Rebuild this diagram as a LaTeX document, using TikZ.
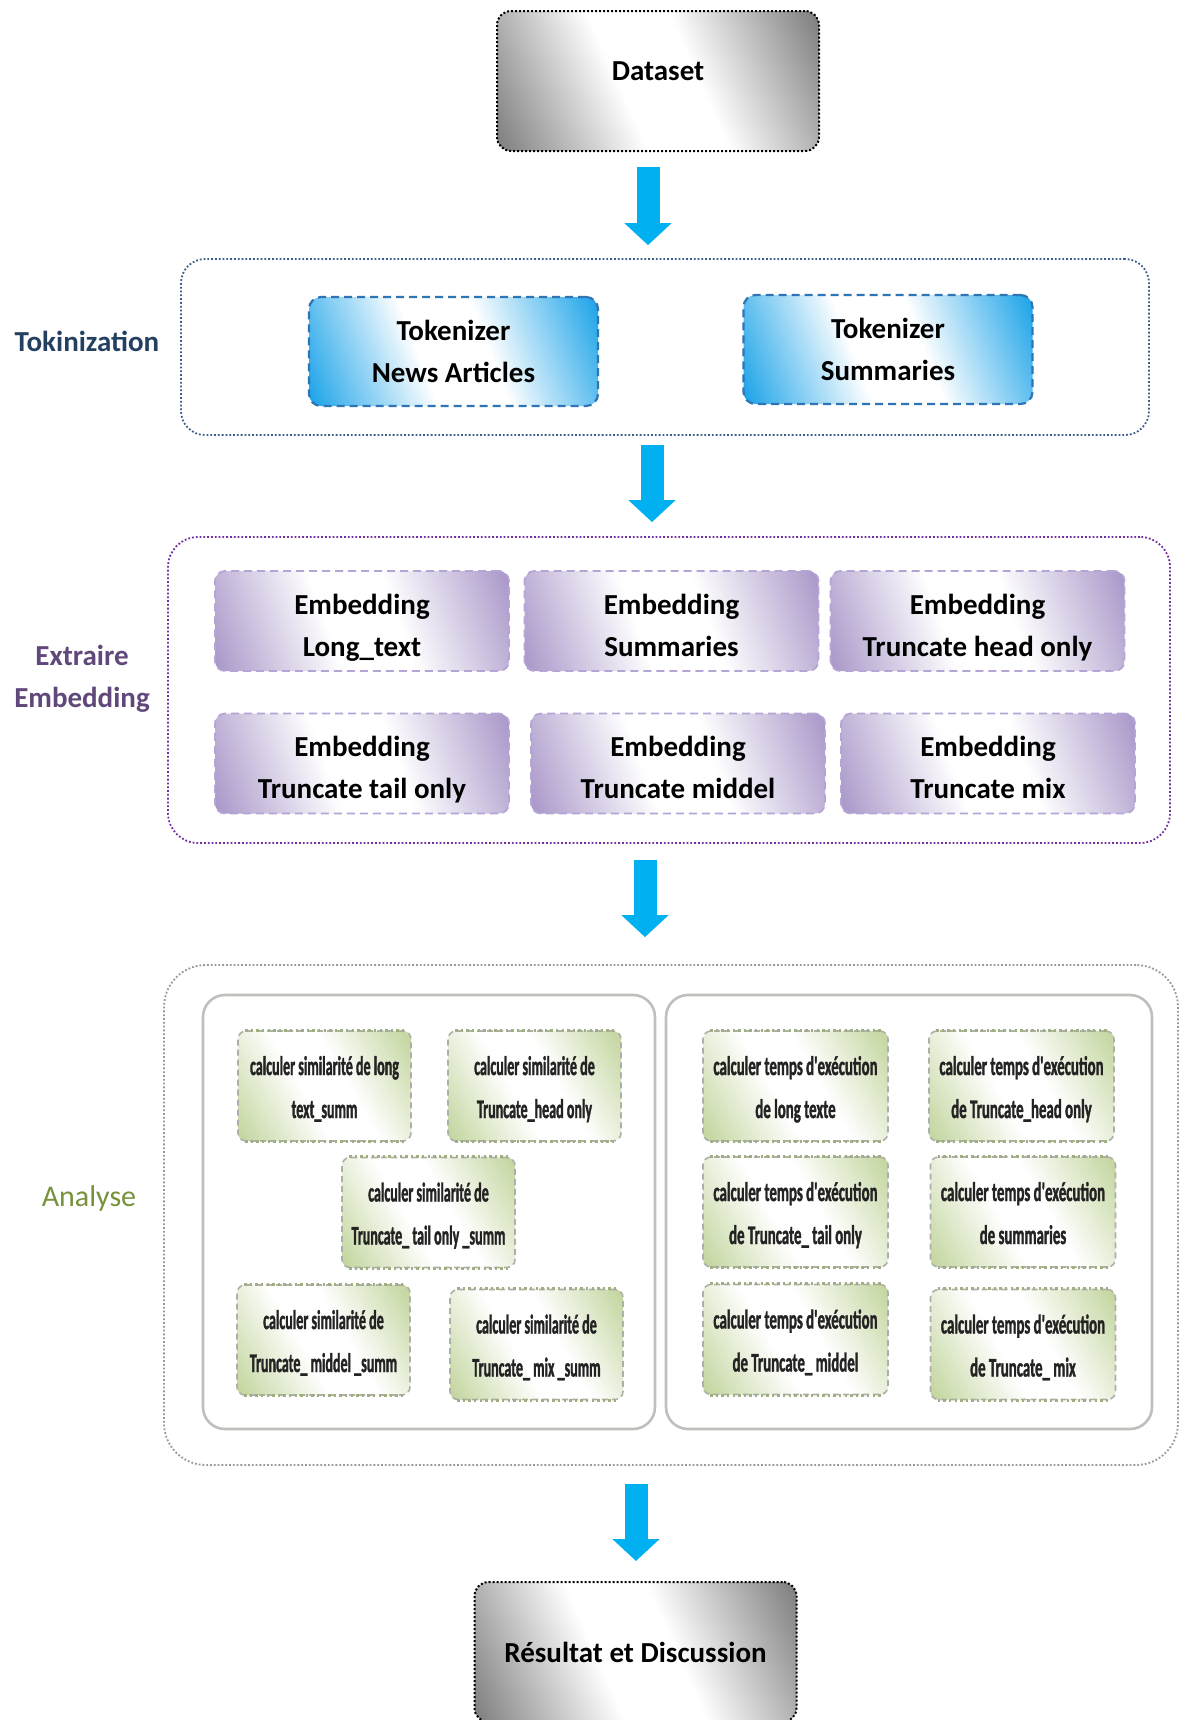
\documentclass[tikz,border=0pt]{standalone}
\usepackage{fontspec}
\setmainfont{Carlito}
\newfontfamily\simfont[FakeStretch=0.52, FakeBold=1.2]{Carlito}
\newfontfamily\timefont[FakeStretch=0.55, FakeBold=1.2]{Carlito}
\usetikzlibrary{arrows.meta}

\definecolor{flowblue}{RGB}{0,176,240}
\definecolor{tokline}{RGB}{59,94,140}
\definecolor{toklabel}{RGB}{36,64,97}
\definecolor{tokdash}{RGB}{46,117,182}
\definecolor{embline}{RGB}{112,48,160}
\definecolor{emblabel}{RGB}{96,73,122}
\definecolor{embdash}{RGB}{180,165,214}
\definecolor{analabel}{RGB}{118,146,60}
\definecolor{anadot}{RGB}{160,175,130}
\definecolor{anaside}{RGB}{175,175,170}
\definecolor{anaouter}{RGB}{150,155,145}
\definecolor{anainner}{RGB}{190,192,188}
\definecolor{anatext}{RGB}{35,35,35}

% diagonal two-corner fills: colour in two opposite corners, white band across the middle
\definecolor{shgray}{RGB}{125,125,125}
\definecolor{shblue}{RGB}{20,160,232}
\definecolor{shpurple}{RGB}{165,146,198}
\definecolor{shgreen}{RGB}{196,214,160}
\pgfdeclareverticalshading{graydiag}{100bp}{color(0bp)=(shgray); color(17bp)=(shgray);
  color(43bp)=(white); color(57bp)=(white); color(83bp)=(shgray); color(100bp)=(shgray)}
\pgfdeclareverticalshading{bluediag}{100bp}{color(0bp)=(shblue); color(17bp)=(shblue);
  color(43bp)=(white); color(57bp)=(white); color(83bp)=(shblue); color(100bp)=(shblue)}
\pgfdeclareverticalshading{purplediag}{100bp}{color(0bp)=(shpurple); color(17bp)=(shpurple);
  color(43bp)=(white); color(57bp)=(white); color(83bp)=(shpurple); color(100bp)=(shpurple)}
\pgfdeclareverticalshading{greendiag}{100bp}{color(0bp)=(shgreen); color(17bp)=(shgreen);
  color(43bp)=(white); color(57bp)=(white); color(83bp)=(shgreen); color(100bp)=(shgreen)}

\tikzset{
  bigfont/.style={font=\bfseries\fontsize{14.5}{21}\selectfont},
  endbox/.style={bigfont, draw=black, densely dotted, line width=1pt,
    rounded corners=7pt, shade, shading=graydiag, shading angle=-66,
    minimum width=161pt, minimum height=70pt, inner sep=0pt},
  tokbox/.style={bigfont, align=center, draw=tokdash, dash pattern=on 4pt off 2.5pt,
    line width=1.1pt, rounded corners=6pt, shade, shading=bluediag, shading angle=-69,
    minimum width=144.5pt, minimum height=54.5pt, inner sep=0pt},
  embbox/.style={bigfont, align=center, draw=embdash, dash pattern=on 4pt off 2.5pt,
    line width=0.9pt, rounded corners=5pt, shade, shading=purplediag, shading angle=-70,
    minimum width=147pt, minimum height=50pt, inner sep=0pt,
    text height=35pt, text depth=0pt},
  anabox/.style={align=center, text=anatext, draw=anaside, dash pattern=on 3pt off 2pt,
    line width=0.8pt, rounded corners=4pt, shade, shading=greendiag, shading angle=-60,
    minimum width=86.5pt, minimum height=55pt, inner sep=0pt,
    text height=32pt, text depth=0pt,
    append after command={
      (\tikzlastnode.north west) ++(4pt,0) edge[anadotline] ([xshift=-4pt]\tikzlastnode.north east)
      (\tikzlastnode.south west) ++(4pt,0) edge[anadotline] ([xshift=-4pt]\tikzlastnode.south east)}},
  anadotline/.style={draw=anadot, line width=1.6pt, dash pattern=on 1.2pt off 1.6pt},
  simbox/.style={anabox, font=\simfont\bfseries\fontsize{13.5}{21.5}\selectfont},
  timebox/.style={anabox, font=\timefont\bfseries\fontsize{13.5}{21.5}\selectfont,
    minimum width=92.5pt},
  tokgroup/.style={draw=tokline, densely dotted, line width=0.9pt, rounded corners=12pt,
    minimum width=484pt, minimum height=88pt, inner sep=0pt},
  embgroup/.style={draw=embline, densely dotted, line width=0.9pt, rounded corners=15pt,
    minimum width=501pt, minimum height=153pt, inner sep=0pt},
  anagroup/.style={draw=anaouter, densely dotted, line width=0.9pt, rounded corners=21pt,
    minimum width=507pt, minimum height=250pt, inner sep=0pt},
  anapanel/.style={draw=anainner, line width=1.3pt, rounded corners=11pt,
    minimum height=217pt, inner sep=0pt},
  stagelabel/.style={bigfont, align=center},
  flow/.style={draw=flowblue, line width=11.5pt,
    -{Triangle[width=23pt,length=11pt]}}
}

\begin{document}
\begin{tikzpicture}[x=0.5pt,y=-0.5pt]
\useasboundingbox (0,0) rectangle (1180,1720);
\clip (0,0) rectangle (1180,1720);
\fill[white] (0,0) rectangle (1180,1720);

% start
\node[endbox] (dataset) at (658,81) {\raisebox{10pt}{Dataset}};

% tokenization stage
\node[tokgroup] (tokgrp) at (665,347) {};
\node[tokbox] (toknews) at (453.5,351.5) {Tokenizer\\News Articles};
\node[tokbox] (toksumm) at (888,349.5) {Tokenizer\\Summaries};
\node[stagelabel, text=toklabel] (toklbl) at (87,341) {Tokinization};

% embedding stage
\node[embgroup] (embgrp) at (669,690) {};
\node[embbox] (emb1) at (362,621) {Embedding\\Long\_text};
\node[embbox] (emb2) at (671.5,621) {Embedding\\Summaries};
\node[embbox] (emb3) at (977.5,621) {Embedding\\Truncate head only};
\node[embbox] (emb4) at (362,763.5) {Embedding\\Truncate tail only};
\node[embbox] (emb5) at (678,763.5) {Embedding\\Truncate middel};
\node[embbox] (emb6) at (988,763.5) {Embedding\\Truncate mix};
\node[stagelabel, text=emblabel] (emblbl) at (82,679) {Extraire\\Embedding};

% analysis stage
\node[anagroup] (anagrp) at (671,1215) {};
\node[anapanel, minimum width=226pt] (simpanel) at (429,1212) {};
\node[anapanel, minimum width=243pt] (timepanel) at (909,1212) {};
\node[font=\fontsize{15}{18}\selectfont, text=analabel] (analbl) at (89,1198) {Analyse};

\node[simbox] (sim1) at (324.5,1086) {calculer similarité de long\\text\_summ};
\node[simbox] (sim2) at (534.5,1086) {calculer similarité de\\Truncate\_head only};
\node[simbox] (sim3) at (428.5,1212.5) {calculer similarité de\\Truncate\_ tail only \_summ};
\node[simbox] (sim4) at (323.5,1340) {calculer similarité de\\Truncate\_ middel \_summ};
\node[simbox] (sim5) at (536.5,1344.5) {calculer similarité de\\Truncate\_ mix \_summ};

\node[timebox] (time1) at (795.5,1086) {calculer temps d'exécution\\de long texte};
\node[timebox] (time2) at (1021.5,1086) {calculer temps d'exécution\\de Truncate\_head only};
\node[timebox] (time3) at (795.5,1212) {calculer temps d'exécution\\de Truncate\_ tail only};
\node[timebox] (time4) at (1023,1212) {calculer temps d'exécution\\de summaries};
\node[timebox] (time5) at (795.5,1339.5) {calculer temps d'exécution\\de Truncate\_ middel};
\node[timebox] (time6) at (1023,1344.5) {calculer temps d'exécution\\de Truncate\_ mix};

% end
\node[endbox] (result) at (635.5,1652) {Résultat et Discussion};

% flow arrows between stages
\coordinate (ax1) at (648,0);
\coordinate (ax2) at (652,0);
\coordinate (ax3) at (645,0);
\coordinate (ax4) at (636,0);
\draw[flow] ([yshift=-7.5pt]dataset.south -| ax1) -- ([yshift=6.5pt]tokgrp.north -| ax1);
\draw[flow] ([yshift=-4.5pt]tokgrp.south -| ax2) -- ([yshift=7pt]embgrp.north -| ax2);
\draw[flow] ([yshift=-8pt]embgrp.south -| ax3) -- ([yshift=13.5pt]anagrp.north -| ax3);
\draw[flow] ([yshift=-9pt]anagrp.south -| ax4) -- ([yshift=10pt]result.north -| ax4);
\end{tikzpicture}
\end{document}
